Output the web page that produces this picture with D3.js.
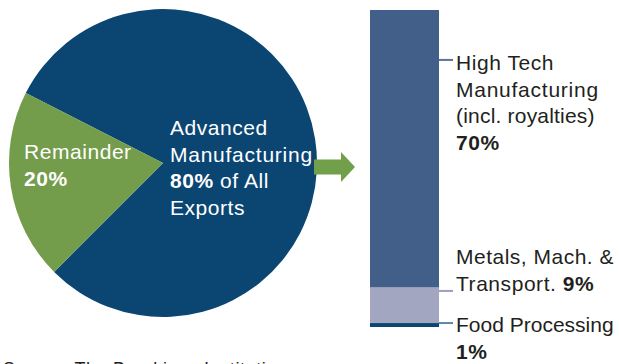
<!DOCTYPE html>
<html>
<head>
<meta charset="utf-8">
<script src="https://cdn.jsdelivr.net/npm/d3@7"></script>
<style>
  html, body { margin: 0; padding: 0; background: #fff; overflow: hidden; }
  svg { display: block; font-family: "Liberation Sans", Arial, sans-serif; }
</style>
</head>
<body>
<svg id="chart" width="619" height="364"></svg>
<script>
// Share of exports: advanced manufacturing vs remainder
const pieCategories = ["Advanced Manufacturing", "Remainder"];
const pieValues = [80, 20];
const pieColors = ["#0b4673", "#739c4b"];

// Breakdown of advanced manufacturing (stacked bar, bottom to top)
const barCategories = ["Food Processing", "Metals, Mach. & Transport.", "High Tech Manufacturing"];
const barValues = [1, 9, 70];
const barColors = ["#0b4673", "#a2a6c0", "#415f88"];
const tickColors = ["#5a86b0", "#9aa0bd", "#5a7399"];

const svg = d3.select("#chart");

// ---- Pie ----
const cx = 163, cy = 163, radius = 154;
const start = -63 * Math.PI / 180;
const pie = d3.pie().sort(null).value(d => d).startAngle(start).endAngle(start + 2 * Math.PI);
const arc = d3.arc().innerRadius(0).outerRadius(radius);
const pg = svg.append("g").attr("transform", `translate(${cx},${cy})`);
pg.selectAll("path").data(pie(pieValues)).join("path")
  .attr("d", arc)
  .attr("fill", (d, i) => pieColors[i]);

const fs = 21, lh = 26.7;
// Multi-line label; each row is a list of {t, b} runs, optionally with its own letter spacing
function lines(g, x, y, rows, color) {
  const t = g.append("text").attr("x", x).attr("y", y).attr("fill", color).attr("font-size", fs);
  rows.forEach((row, i) => {
    const ts = t.append("tspan").attr("x", x).attr("y", y + i * lh)
      .attr("letter-spacing", row.ls != null ? row.ls : 0.55);
    row.forEach(part => {
      ts.append("tspan").attr("font-weight", part.b ? "bold" : null).text(part.t);
    });
  });
  return t;
}
function row(parts, ls) { parts.ls = ls; return parts; }

lines(svg, 24, 159, [[{t: "Remainder"}], [{t: pieValues[1] + "%", b: true}]], "#fff");
lines(svg, 170, 135, [
  [{t: "Advanced"}],
  row([{t: "Manufacturing"}], 0.75),
  [{t: pieValues[0] + "%", b: true}, {t: " of All"}],
  [{t: "Exports"}]
], "#fff");

// ---- Arrow ----
svg.append("path")
  .attr("d", "M314,159.5 L341,159.5 L341,152 L355,167 L341,182 L341,174.5 L314,174.5 Z")
  .attr("fill", "#72a04a");

// ---- Stacked bar ----
const total = d3.sum(barValues);
const y = d3.scaleLinear().domain([0, total]).range([327, 10]);
const bx = 370, bw = 69;
let acc = 0;
const stack = barValues.map(v => { const s = {y0: acc, y1: acc + v}; acc += v; return s; });
svg.append("g").selectAll("rect").data(stack).join("rect")
  .attr("x", bx).attr("width", bw)
  .attr("y", d => y(d.y1))
  .attr("height", d => y(d.y0) - y(d.y1))
  .attr("fill", (d, i) => barColors[i]);

// Leader ticks pointing at each label
const tickY = [y(1), y(9.1), y(67.4)];
svg.append("g").selectAll("line").data(tickY).join("line")
  .attr("x1", bx + bw).attr("x2", bx + bw + 14)
  .attr("y1", d => d).attr("y2", d => d)
  .attr("stroke", (d, i) => tickColors[i]).attr("stroke-width", 2);

const lx = 456, dark = "#231f20";
lines(svg, lx, 70, [
  [{t: "High Tech"}],
  row([{t: "Manufacturing"}], 0.75),
  row([{t: "(incl. royalties)"}], 0.2),
  [{t: barValues[2] + "%", b: true}]
], dark);
lines(svg, lx, 264, [
  row([{t: "Metals, Mach. &"}], 0.5),
  [{t: "Transport. "}, {t: barValues[1] + "%", b: true}]
], dark);
lines(svg, lx, 332, [
  row([{t: "Food Processing"}], 0),
  [{t: barValues[0] + "%", b: true}]
], dark);

// Source line along the bottom edge
svg.append("text").attr("x", 3).attr("y", 375).attr("font-size", 18).attr("fill", dark)
  .attr("letter-spacing", 0.6)
  .text("Source: The Brookings Institution");
</script>
</body>
</html>
